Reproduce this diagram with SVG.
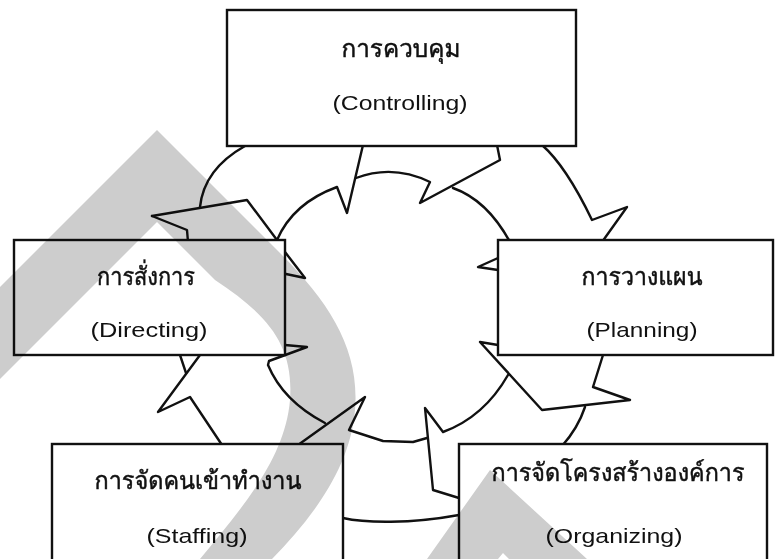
<svg xmlns="http://www.w3.org/2000/svg" width="775" height="559" viewBox="0 0 775 559">
  <style>
    .ring { fill: none; stroke: #111; stroke-width: 2.4; stroke-linejoin: round; stroke-linecap: round; }
    .node rect { fill: #fff; stroke: #111; stroke-width: 2.4; }
    .th { font-family: "Loma", "Garuda", "Tlwg Typo", "Noto Sans Thai", "Norasi", "Noto Sans", "DejaVu Sans", sans-serif; font-size: 25px; fill: #111; stroke: #111; stroke-width: 0.5; text-anchor: middle; }
    .en { font-family: "Liberation Sans", Arial, sans-serif; font-size: 21px; fill: #111; text-anchor: middle; }
    .mark { fill: #cdcdcd; mix-blend-mode: multiply; }
  </style>

  <rect width="775" height="559" fill="#fff"/>

  <!-- cycle of curved arrows around the centre -->
  <g id="connectors">
    <path class="ring" d="M245,146 Q204,169 200,207"/>
    <path class="ring" d="M152,216 L247,200 L277,240"/>
    <path class="ring" d="M152,216 L187,230 L188,242"/>
    <path class="ring" d="M277,240 Q293,203 337,187 L347,213 L363,145"/>
    <path class="ring" d="M356,178 Q393,164 430,182 L420,203 L500,160 L497,145"/>
    <path class="ring" d="M453,188 Q487,200 510,242"/>
    <path class="ring" d="M542,145 Q566,166 592,220 L627,207 L602,242"/>
    <path class="ring" d="M498,258 L478,267 L498,270"/>
    <path class="ring" d="M285,252 L305,278 L286,274"/>
    <path class="ring" d="M285,345 L307,347 L269,361 L268,365 Q283,401 325,423"/>
    <path class="ring" d="M298,445 L365,397 L349,430 L383,441 L413,442 L427,438"/>
    <path class="ring" d="M180,355 L186,373"/>
    <path class="ring" d="M200,355 L158,412 L190,397 L222,445"/>
    <path class="ring" d="M498,345 L480,342 L542,410 L630,400 L593,387 L603,355"/>
    <path class="ring" d="M508,375 Q484,417 443,432 L425,408 L433,490 L459,498"/>
    <path class="ring" d="M585,407 Q578,428 562,446"/>
    <path class="ring" d="M343,518 C365,523 410,524 459,515"/>
  </g>

  <g id="controlling" class="node">
    <rect x="227" y="10" width="349" height="136"/>
    <text class="th" x="401" y="57" textLength="119" lengthAdjust="spacingAndGlyphs">การควบคุม</text>
    <text class="en" x="400" y="110" textLength="135" lengthAdjust="spacingAndGlyphs">(Controlling)</text>
  </g>

  <g id="directing" class="node">
    <rect x="14" y="240" width="271" height="115"/>
    <text class="th" x="146" y="285" textLength="98" lengthAdjust="spacingAndGlyphs">การสั่งการ</text>
    <text class="en" x="149" y="337" textLength="117" lengthAdjust="spacingAndGlyphs">(Directing)</text>
  </g>

  <g id="planning" class="node">
    <rect x="498" y="240" width="275" height="115"/>
    <text class="th" x="642" y="285" textLength="121" lengthAdjust="spacingAndGlyphs">การวางแผน</text>
    <text class="en" x="642" y="337" textLength="111" lengthAdjust="spacingAndGlyphs">(Planning)</text>
  </g>

  <g id="staffing" class="node">
    <rect x="52" y="444" width="291" height="130"/>
    <text class="th" x="198" y="489" textLength="207" lengthAdjust="spacingAndGlyphs">การจัดคนเข้าทำงาน</text>
    <text class="en" x="197" y="543" textLength="101" lengthAdjust="spacingAndGlyphs">(Staffing)</text>
  </g>

  <g id="organizing" class="node">
    <rect x="459" y="444" width="308" height="130"/>
    <text class="th" x="618" y="481" textLength="253" lengthAdjust="spacingAndGlyphs">การจัดโครงสร้างองค์การ</text>
    <text class="en" x="614" y="543" textLength="137" lengthAdjust="spacingAndGlyphs">(Organizing)</text>
  </g>

  <!-- light grey band shapes laid over the drawing -->
  <g id="band">
    <path class="mark" d="M0,287 L157,130 L280,253 C330,303 360,350 355,410 C350,470 310,520 272,559 L200,559 C240,510 285,460 290,400 C294,345 268,315 215,280 L157,222 L0,379 Z"/>
    <path class="mark" d="M427,559 L490,470 L587,559 L509,559 L503,553 L498,559 Z"/>
  </g>
</svg>
